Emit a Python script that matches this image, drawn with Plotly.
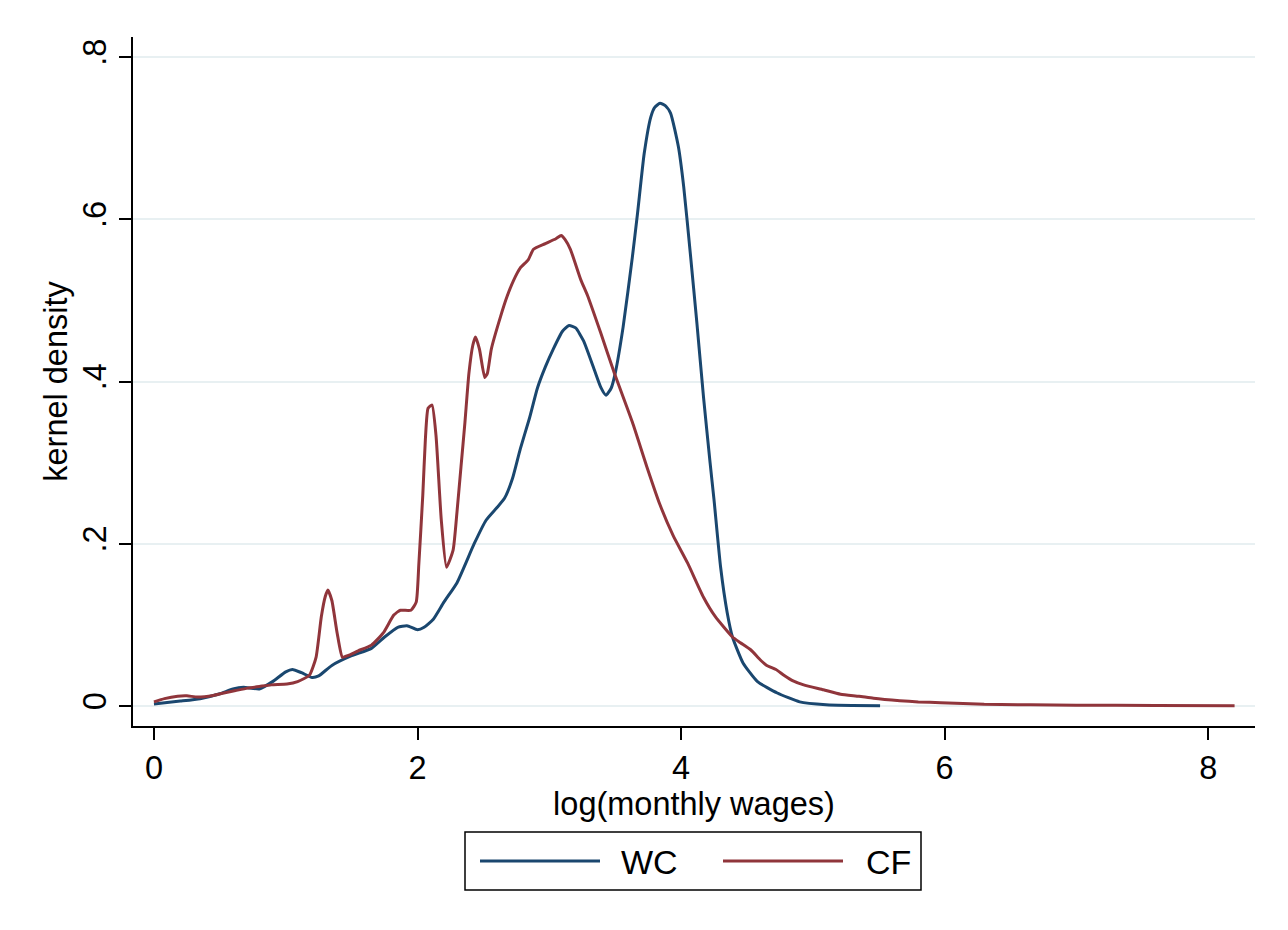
import plotly.graph_objects as go

# ---------------- data ----------------
wc_x = [0, 0.2, 0.35, 0.5, 0.6, 0.68, 0.8, 0.9, 1.0, 1.05, 1.12, 1.2, 1.25, 1.35, 1.5,
        1.65, 1.75, 1.85, 1.92, 2.0, 2.05, 2.12, 2.2, 2.3, 2.43, 2.52, 2.6, 2.66, 2.72,
        2.78, 2.85, 2.91, 2.97, 3.03, 3.1, 3.15, 3.2, 3.26, 3.34, 3.39, 3.43, 3.47, 3.5,
        3.56, 3.63, 3.67, 3.72, 3.77, 3.8, 3.84, 3.88, 3.92, 3.98, 4.02, 4.07, 4.12,
        4.17, 4.22, 4.25, 4.3, 4.35, 4.39, 4.47, 4.58, 4.73, 4.9, 5.1, 5.3, 5.51]
wc_y = [0.0025, 0.006, 0.009, 0.015, 0.021, 0.023, 0.021, 0.03, 0.042, 0.045, 0.041,
        0.035, 0.037, 0.05, 0.062, 0.071, 0.085, 0.097, 0.099, 0.094, 0.097, 0.107,
        0.128, 0.152, 0.2, 0.229, 0.244, 0.256, 0.28, 0.317, 0.355, 0.392, 0.418, 0.44,
        0.462, 0.469, 0.466, 0.45, 0.415, 0.393, 0.383, 0.392, 0.41, 0.467, 0.553,
        0.608, 0.681, 0.726, 0.738, 0.743, 0.74, 0.731, 0.689, 0.64, 0.558, 0.472,
        0.381, 0.3, 0.254, 0.171, 0.115, 0.085, 0.053, 0.03, 0.016, 0.005, 0.0015,
        0.0006, 0.0002]

cf_x = [0, 0.08, 0.18, 0.25, 0.33, 0.45, 0.53, 0.62, 0.71, 0.8, 0.89, 1.01, 1.09, 1.18,
        1.23, 1.27, 1.3, 1.32, 1.35, 1.39, 1.43, 1.47, 1.55, 1.65, 1.74, 1.82, 1.87,
        1.95, 1.99, 2.01, 2.04, 2.06, 2.08, 2.11, 2.14, 2.18, 2.22, 2.27, 2.3, 2.33,
        2.36, 2.39, 2.42, 2.44, 2.47, 2.51, 2.53, 2.56, 2.63, 2.68, 2.73, 2.78, 2.84,
        2.88, 2.97, 3.05, 3.09, 3.12, 3.16, 3.24, 3.29, 3.39, 3.49, 3.63, 3.74, 3.84,
        3.94, 4.05, 4.17, 4.26, 4.39, 4.45, 4.53, 4.6, 4.65, 4.72, 4.78, 4.85, 4.93,
        5.08, 5.21, 5.35, 5.46, 5.66, 5.8, 5.97, 6.3, 7.0, 7.6, 8.2]
cf_y = [0.005, 0.009, 0.012, 0.0125, 0.011, 0.013, 0.016, 0.019, 0.022, 0.024, 0.026,
        0.027, 0.03, 0.038, 0.06, 0.11, 0.135, 0.143, 0.13, 0.09, 0.06, 0.062, 0.068,
        0.075, 0.09, 0.112, 0.118, 0.118, 0.128, 0.175, 0.26, 0.33, 0.367, 0.371,
        0.334, 0.23, 0.171, 0.192, 0.24, 0.295, 0.35, 0.41, 0.445, 0.455, 0.44, 0.405,
        0.41, 0.44, 0.48, 0.505, 0.525, 0.54, 0.55, 0.563, 0.57, 0.576, 0.58, 0.575,
        0.563, 0.525, 0.506, 0.46, 0.412, 0.35, 0.295, 0.248, 0.21, 0.176, 0.134, 0.11,
        0.085, 0.078, 0.069, 0.057, 0.05, 0.045, 0.038, 0.031, 0.026, 0.02, 0.0145,
        0.012, 0.0095, 0.0065, 0.005, 0.004, 0.002, 0.001, 0.0005, 0.0002]

series_names = ["WC", "CF"]
series_colors = ["#1A476F", "#90353B"]

x_ticks = [0, 2, 4, 6, 8]
y_ticks = [0, 0.2, 0.4, 0.6, 0.8]
y_tick_labels = ["0", ".2", ".4", ".6", ".8"]

FONT = "Liberation Sans, Arial, sans-serif"
FS = 32.5

fig = go.Figure()
for xs, ys, name, col in [(wc_x, wc_y, series_names[0], series_colors[0]),
                          (cf_x, cf_y, series_names[1], series_colors[1])]:
    fig.add_trace(go.Scatter(x=xs, y=ys, mode="lines", name=name,
                             line=dict(color=col, width=3, shape="spline", smoothing=0.5),
                             showlegend=False))

# plot-area geometry in pixels
L, R, T, B = 133, 1255, 37, 726
W, H = 1288, 930


def px(xp):
    return (xp - L) / (R - L)


def py(yp):
    return (B - yp) / (B - T)


fig.update_layout(
    width=W, height=H,
    margin=dict(l=L, r=W - R, t=T, b=H - B),
    paper_bgcolor="white", plot_bgcolor="white",
    font=dict(family=FONT, size=FS, color="black"),
    xaxis=dict(range=[-0.159, 8.355], tickvals=x_ticks, showgrid=False,
               zeroline=False, showline=True, linecolor="black", linewidth=1.5,
               ticks="outside", ticklen=12, tickwidth=1.5, tickcolor="black",
               tickfont=dict(size=FS),
               title=dict(text="log(monthly wages)", font=dict(size=FS), standoff=0)),
    yaxis=dict(range=[-0.0247, 0.8247], tickvals=y_ticks, ticktext=y_tick_labels,
               tickangle=-90, showgrid=True, gridcolor="#E8F0F2", gridwidth=2,
               zeroline=False, showline=True, linecolor="black", linewidth=1.5,
               ticks="outside", ticklen=12, tickwidth=1.5, tickcolor="black",
               tickfont=dict(size=FS),
               title=dict(text="kernel density", font=dict(size=FS), standoff=0)),
)

# legend drawn manually (Stata style box with long line samples)
shapes = [dict(type="rect", xref="paper", yref="paper",
               x0=px(465), x1=px(921), y0=py(890), y1=py(832),
               line=dict(color="black", width=1.5), fillcolor="white")]
annos = []
legend_items = [(480, 600, 619), (723, 843, 864)]
for (lx0, lx1, tx), name, col in zip(legend_items, series_names, series_colors):
    shapes.append(dict(type="line", xref="paper", yref="paper",
                       x0=px(lx0), x1=px(lx1), y0=py(861), y1=py(861),
                       line=dict(color=col, width=3)))
    annos.append(dict(xref="paper", yref="paper", x=px(tx), y=py(862),
                      xanchor="left", yanchor="middle", text=name, showarrow=False,
                      font=dict(size=34, family=FONT, color="black")))
fig.update_layout(shapes=shapes, annotations=annos)

fig.write_html("out.html")
